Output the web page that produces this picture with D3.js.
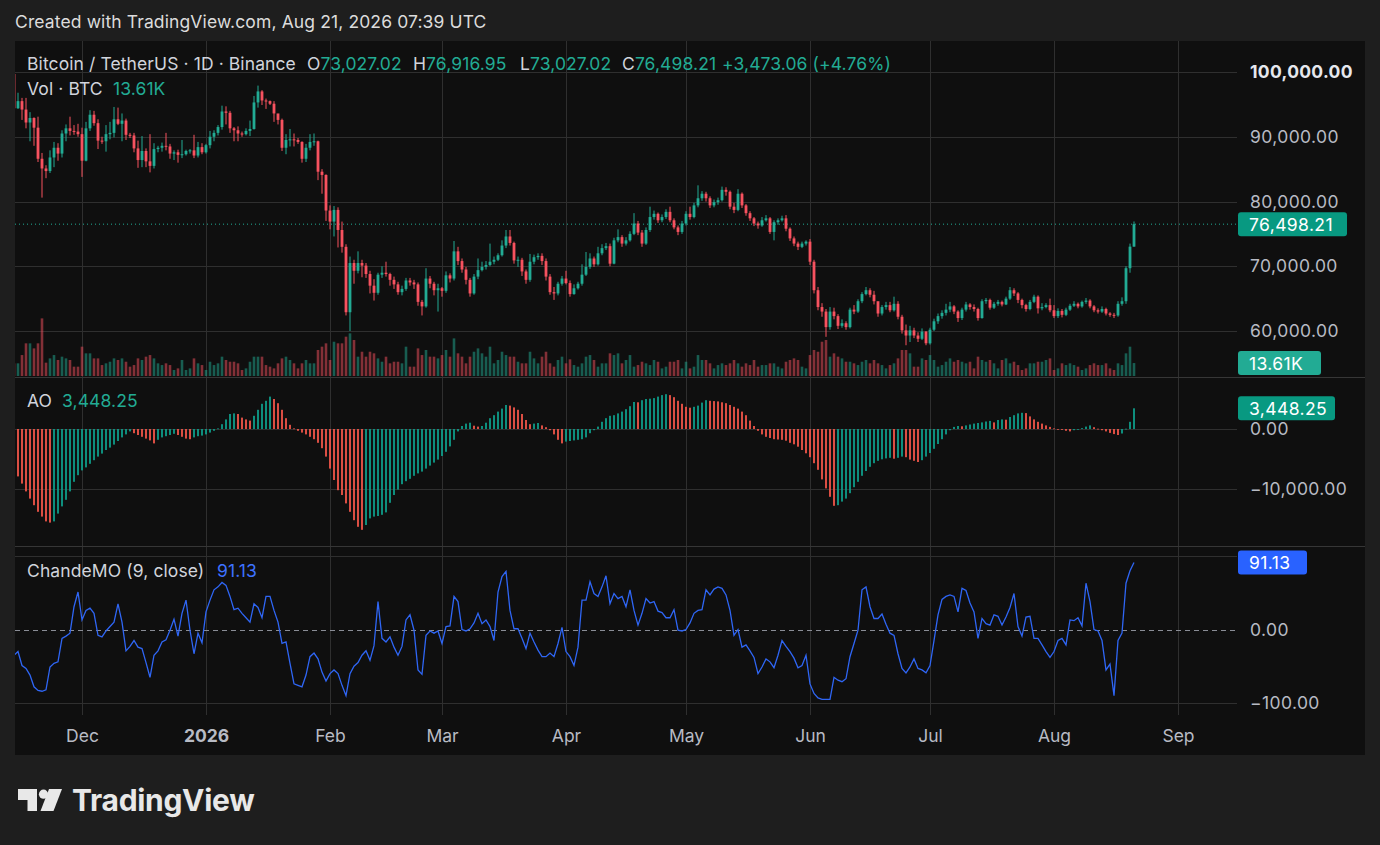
<!DOCTYPE html>
<html><head><meta charset="utf-8">
<script src="https://cdn.jsdelivr.net/npm/d3@7/dist/d3.min.js"></script>
<style>
html,body{margin:0;padding:0;background:#1e1e1e;}
svg{display:block;font-family:Inter,"Noto Sans",sans-serif;}
</style></head><body>
<svg id="c" width="1380" height="845"></svg>
<script>
// ---------------- DATA (BTC/USDT daily, prices in thousands USDT) ----------------
const firstDay = "2025-11-14";
const firstOpenK = 99.7;
const closeK = [
 94.4,95.5,94.2,92.2,92.9,91.4,86.6,85.1,84.7,86.8,
 88.3,87.4,90.5,91.3,90.9,90.8,90.4,86.3,91.3,93.4,
 92.1,89.4,89.3,90.4,90.6,92.7,92.0,92.5,90.3,90.2,
 88.2,86.4,87.8,86.2,85.5,88.1,88.3,88.6,88.5,87.4,
 87.6,87.2,87.3,87.8,87.9,87.1,88.4,87.6,88.7,90.0,
 90.6,91.5,93.9,93.7,91.3,91.0,90.5,90.4,90.9,91.2,
 95.3,97.0,95.6,95.5,95.1,93.6,92.6,88.3,89.5,89.6,
 89.5,89.2,86.6,88.3,89.2,89.3,84.6,84.1,78.6,76.9,
 78.7,75.6,73.0,62.9,70.5,69.3,70.5,70.1,68.8,67.0,
 65.9,68.7,69.0,68.8,67.9,67.2,66.0,66.5,67.8,67.5,
 67.2,64.5,63.8,68.1,67.3,66.3,66.6,66.2,68.6,68.1,
 72.3,70.8,69.5,67.9,65.8,68.4,69.4,69.9,70.2,70.7,
 71.0,71.7,73.2,74.6,73.6,70.9,71.0,69.2,67.9,70.7,
 71.4,71.6,70.8,68.4,66.0,65.8,67.3,68.1,67.4,65.7,
 66.6,67.3,68.7,69.9,71.2,70.3,72.0,72.8,73.1,70.4,
 74.0,74.5,73.5,74.0,75.0,76.6,75.2,73.5,75.6,77.6,
 78.1,77.1,77.6,78.4,77.1,76.0,75.3,76.6,78.1,77.6,
 79.4,80.5,81.2,80.5,79.4,79.9,80.2,81.8,81.5,79.2,
 78.7,81.2,79.4,78.2,77.4,76.6,76.3,77.1,77.4,75.3,
 76.8,77.1,77.4,75.8,74.3,73.5,73.0,73.5,73.8,70.7,
 66.3,63.7,63.0,60.6,63.0,62.3,60.8,61.2,60.6,63.3,
 63.0,64.6,65.7,66.3,65.6,64.6,62.7,63.7,64.0,63.2,
 64.2,62.2,60.1,59.3,60.1,59.3,58.8,59.9,58.1,60.2,
 61.5,62.3,62.8,63.3,63.8,63.0,62.0,63.3,64.1,63.7,
 63.4,62.0,64.6,64.8,63.6,64.2,64.5,64.1,65.0,66.3,
 65.8,64.8,64.0,63.4,64.5,65.3,63.5,63.7,64.0,63.2,
 62.3,63.1,62.5,63.3,63.9,64.2,63.8,64.5,64.7,63.8,
 63.2,63.0,63.4,62.7,62.5,62.4,64.2,64.6,69.7,73.02702,
 76.49821];
const highK = [
 99.6,96.8,96.0,96.0,93.8,93.0,93.1,87.5,85.6,87.9,
 89.2,89.0,91.0,91.9,93.1,91.8,92.0,91.4,92.3,94.1,
 94.0,92.7,90.0,91.8,92.3,94.6,94.5,93.6,92.8,90.6,
 90.6,89.4,90.1,88.2,90.4,89.0,88.6,89.1,90.6,88.9,
 87.9,88.0,89.5,88.0,88.1,90.3,89.2,89.0,88.9,90.9,
 91.0,91.8,94.8,94.7,94.0,91.5,91.6,90.8,91.3,92.5,
 96.3,97.9,97.2,95.9,95.6,95.5,93.4,92.8,90.4,91.2,
 90.5,89.8,89.3,88.9,90.4,90.5,89.4,85.0,84.2,79.4,
 79.3,79.1,76.9,73.4,71.5,71.0,72.3,71.0,70.5,69.3,
 68.0,69.0,70.0,70.7,69.0,68.4,67.6,67.0,68.2,68.2,
 67.9,67.5,64.8,69.7,68.5,67.6,67.3,66.8,69.2,68.9,
 73.9,73.0,71.2,69.9,68.2,68.8,71.2,70.7,70.8,73.5,
 71.5,72.0,74.0,75.6,75.6,73.8,71.5,71.3,69.5,71.9,
 71.8,72.0,72.0,71.2,68.8,66.8,67.6,68.5,69.3,67.8,
 67.2,67.6,70.3,72.2,72.0,71.5,73.0,73.4,73.6,73.5,
 74.4,75.7,74.8,74.5,75.4,78.2,77.0,75.6,76.0,79.2,
 78.6,78.3,78.0,78.8,79.2,77.4,76.3,77.0,78.5,79.2,
 79.8,82.5,81.6,81.5,80.8,80.3,80.6,82.3,82.2,81.7,
 79.8,81.9,81.4,79.6,78.5,77.6,76.9,77.6,77.9,77.6,
 77.1,77.4,77.8,77.9,76.0,74.6,73.8,73.8,74.0,74.2,
 71.0,66.8,64.3,63.4,63.7,63.6,62.6,61.8,61.5,63.6,
 64.0,64.9,66.0,66.8,66.6,66.2,64.5,64.0,64.5,64.5,
 65.3,64.6,62.5,61.0,60.8,60.5,59.8,60.4,60.0,60.5,
 61.9,62.7,63.2,64.2,64.5,64.0,63.2,63.6,64.5,64.3,
 64.1,63.6,64.9,65.1,65.0,64.5,64.8,64.7,65.3,66.8,
 66.6,66.0,65.0,64.2,64.8,65.6,65.5,64.3,64.3,65.0,
 64.0,63.5,63.4,63.6,64.2,64.6,64.4,64.7,65.1,64.9,
 64.0,63.5,63.8,63.6,62.9,62.8,64.6,65.2,70.0,73.5,
 76.91695];
const lowK = [
 94.0,94.3,92.6,91.3,89.3,88.6,86.1,80.6,83.6,84.4,
 85.3,86.3,86.8,89.3,90.2,90.3,90.0,83.8,86.2,90.9,
 91.7,88.1,88.9,87.7,89.6,89.9,91.8,89.3,89.5,89.8,
 87.6,85.2,85.3,85.3,84.5,85.1,87.6,87.7,87.9,86.6,
 86.4,86.0,86.7,87.1,87.4,86.7,86.8,87.3,87.4,88.2,
 89.3,90.2,91.1,91.9,90.6,89.3,89.3,90.0,90.2,90.1,
 91.1,94.5,94.9,94.3,94.9,92.3,91.9,87.8,87.3,88.5,
 88.5,88.9,86.0,86.1,87.9,88.6,83.3,81.2,77.0,75.7,
 74.6,72.9,72.1,62.4,60.0,67.3,68.9,68.3,68.2,65.8,
 64.7,65.6,68.2,68.4,67.0,66.5,65.6,65.5,66.2,67.0,
 66.5,63.9,62.4,63.6,66.6,65.5,63.0,65.3,65.9,67.5,
 67.8,70.2,69.0,67.2,65.3,65.6,68.0,69.2,69.5,70.0,
 70.3,70.8,71.5,72.8,73.2,70.4,69.9,68.5,67.3,67.6,
 70.3,71.0,70.2,67.8,65.6,64.8,65.5,67.0,67.2,65.3,
 65.6,66.4,67.0,68.5,69.6,69.9,70.1,71.7,72.5,70.0,
 70.3,73.7,73.0,73.2,73.8,74.8,74.8,73.0,73.3,75.3,
 77.2,76.7,76.8,77.3,76.8,75.7,74.8,75.0,76.3,77.2,
 77.4,79.1,80.1,80.0,79.0,79.1,79.5,80.0,80.9,78.8,
 78.2,78.5,79.0,77.8,77.0,76.2,75.8,76.1,76.9,75.0,
 74.0,76.4,76.9,75.4,73.9,73.1,72.5,72.8,73.2,70.2,
 65.8,63.2,62.2,59.1,60.2,61.8,60.3,60.5,60.2,60.4,
 62.6,62.8,64.3,65.5,65.2,64.1,62.2,62.4,63.3,62.9,
 63.0,61.8,59.6,57.8,58.3,58.9,58.3,58.6,57.8,57.9,
 60.0,61.1,61.9,62.4,62.9,62.6,61.4,61.7,63.0,63.3,
 63.0,61.6,61.9,64.2,63.3,63.4,63.9,63.8,64.0,64.8,
 65.4,64.3,63.5,63.0,63.2,64.3,62.7,63.2,63.5,62.9,
 62.0,62.0,62.1,62.3,63.1,63.7,63.5,63.6,64.2,63.5,
 62.9,62.7,62.8,62.4,62.2,62.0,62.2,63.9,64.2,69.0,
 73.02702];
// volume, thousands of BTC
const volumeK = [
 13.3,13.3,22.0,34.3,34.3,29.0,34.3,60.5,14.0,18.5,
 22.0,16.8,20.3,18.5,16.8,9.8,9.8,30.8,23.8,23.8,
 18.5,18.5,11.5,13.3,15.0,18.5,16.8,18.5,15.0,9.8,
 11.5,18.5,16.8,20.3,22.0,18.5,13.3,11.5,13.3,11.5,
 6.3,8.0,16.8,6.3,8.0,18.5,13.3,11.5,6.3,15.0,
 11.5,13.3,20.3,16.8,15.0,15.0,13.3,6.3,8.0,15.0,
 20.3,20.3,20.3,11.5,9.8,8.0,13.3,18.5,20.3,16.8,
 13.3,8.0,13.3,16.8,13.3,13.3,27.3,30.8,34.3,16.8,
 36.0,34.3,34.3,41.3,44.8,37.8,20.3,25.5,20.3,25.5,
 23.8,18.5,15.0,20.3,13.3,15.0,15.0,13.3,30.8,9.8,
 9.8,29.0,22.0,27.3,20.3,20.3,18.5,22.0,27.3,20.3,
 39.5,23.8,20.3,13.3,20.3,25.5,29.0,23.8,20.3,30.8,
 13.3,16.8,25.5,22.0,20.3,20.3,15.0,13.3,13.3,25.5,
 18.5,13.3,20.3,25.5,13.3,9.8,16.8,20.3,13.3,17.5,
 11.5,9.8,13.3,20.3,22.0,16.8,9.8,13.3,13.3,23.8,
 22.0,23.8,13.3,16.8,22.0,9.8,11.5,15.0,13.3,11.5,
 16.8,15.0,8.0,9.8,15.0,15.0,16.8,8.0,15.0,8.0,
 9.8,22.0,16.8,16.8,13.3,8.0,11.5,13.3,11.5,13.3,
 16.8,13.3,9.8,13.3,11.5,16.8,9.8,11.5,11.5,13.3,
 13.3,9.8,8.0,15.0,16.8,18.5,16.8,9.8,8.0,22.0,
 27.3,25.5,36.0,37.8,20.3,23.8,20.3,18.5,15.0,15.0,
 13.3,11.5,15.0,16.8,13.3,16.8,13.3,11.5,8.0,11.5,
 13.3,18.5,27.3,27.3,23.8,9.8,9.8,18.5,16.8,22.0,
 16.8,9.8,11.5,15.0,18.5,15.0,16.8,15.0,13.3,15.0,
 8.0,20.3,16.8,15.0,16.8,13.3,8.0,16.8,18.5,13.3,
 15.0,11.5,6.3,8.0,13.3,13.3,15.0,15.0,16.8,18.5,
 6.3,8.0,13.3,11.5,13.3,11.5,9.8,6.3,8.0,11.5,
 13.3,11.5,11.5,13.3,8.0,6.3,13.3,11.5,23.8,30.8,
 13.61];
// Awesome Oscillator, thousands
const aoK = [
 -6.8,-7.9,-9.1,-10.4,-11.6,-12.7,-13.8,-14.6,-15.4,-15.6,
 -15.4,-14.1,-12.9,-11.8,-10.4,-8.8,-7.7,-6.9,-6.4,-5.8,
 -5.2,-4.6,-4.1,-3.5,-3.1,-2.6,-2.0,-1.4,-0.9,-0.4,
 -0.7,-1.0,-1.3,-1.6,-1.9,-2.4,-1.8,-1.4,-1.2,-1.0,
 -0.8,-1.0,-1.3,-1.6,-1.7,-1.4,-1.2,-1.1,-0.9,-0.6,
 -0.3,0.1,0.8,1.6,2.5,2.6,2.5,1.9,1.6,1.4,
 2.2,3.2,4.2,4.7,5.4,5.0,4.3,3.2,1.8,0.7,
 0.1,-0.3,-0.6,-0.9,-1.3,-1.7,-2.3,-3.2,-4.6,-6.6,
 -8.5,-10.2,-11.0,-12.4,-13.8,-15.2,-16.3,-16.8,-16.0,-14.9,
 -14.6,-14.5,-14.3,-13.9,-12.3,-11.0,-10.1,-9.2,-8.7,-8.3,
 -7.8,-7.4,-7.1,-6.6,-6.1,-5.6,-5.1,-4.5,-3.8,-2.9,
 -1.8,-0.4,0.5,0.9,1.05,0.55,0.4,0.5,1.05,1.8,
 2.3,2.9,3.4,4.0,3.9,3.6,3.2,2.5,1.5,0.8,
 0.9,1.0,0.6,0.3,-0.2,-0.9,-1.8,-2.4,-2.1,-2.0,
 -1.9,-1.8,-1.7,-1.4,-0.7,-0.2,0.4,1.2,1.8,2.2,
 2.3,2.6,2.9,3.3,3.8,4.5,4.45,4.8,5.0,5.05,
 5.15,5.4,5.65,5.8,5.65,5.3,4.7,4.2,3.7,3.55,
 3.7,3.9,4.4,4.8,4.7,4.65,4.6,4.45,4.3,4.0,
 3.7,3.4,2.9,2.3,1.4,0.5,-0.3,-0.9,-1.3,-1.5,
 -1.7,-1.75,-1.8,-1.95,-2.3,-2.55,-2.95,-3.5,-4.05,-4.7,
 -5.7,-6.8,-8.4,-9.9,-11.3,-12.8,-12.7,-12.1,-11.6,-10.7,
 -9.7,-8.8,-7.8,-7.0,-6.3,-5.7,-5.3,-5.05,-4.9,-4.8,
 -4.95,-4.8,-4.6,-4.7,-5.1,-5.3,-5.5,-5.2,-4.6,-4.0,
 -3.3,-2.5,-1.7,-0.9,-0.2,0.35,0.5,0.45,0.6,0.75,
 0.9,1.0,1.1,1.25,1.35,1.1,1.5,1.6,1.55,2.0,
 2.3,2.6,2.7,2.65,2.1,1.6,1.2,0.9,0.6,0.35,
 0.1,-0.05,-0.15,-0.3,-0.4,-0.2,-0.05,0.15,0.4,0.6,
 0.3,0.05,-0.2,-0.4,-0.65,-0.85,-1.0,-0.75,0.05,1.2,
 3.44825];
// Chande Momentum Oscillator (9, close)
const cmoValues = [
 -35,-30,-49,-53,-62,-78,-83,-84,-82,-51,
 -46,-44,-12,-9,-5,31,51,13,26,29,
 22,-8,-10,-2,4,10,35,10,-29,-23,
 -15,-24,-26,-45,-65,-35,-29,-17,-14,-1,
 14,-9,22,40,-1,-33,-5,-18,24,40,
 54,58,64,60,45,27,29,22,16,10,
 35,30,16,45,45,26,10,-19,-17,-46,
 -74,-76,-78,-62,-37,-32,-40,-58,-70,-60,
 -55,-60,-76,-90,-60,-50,-45,-35,-29,-42,
 -22,38,-12,-17,-10,-24,-35,-23,13,20,
 -1,-55,-61,-8,-2,-5,-2,-19,4,5,
 45,38,0,-2,1,9,22,8,13,4,
 -15,51,72,79,26,1,1,-12,-26,-5,
 -17,-28,-37,-37,-32,-37,-19,3,-30,-37,
 -49,-24,40,40,65,49,45,58,73,35,
 49,42,45,31,54,26,6,22,42,36,
 38,25,23,16,16,27,-1,-2,0,9,
 22,26,27,54,47,55,58,56,47,26,
 -8,0,-24,-21,-29,-38,-60,-51,-40,-44,
 -52,-35,-15,-23,-30,-39,-52,-49,-35,-74,
 -87,-93,-95,-95,-95,-65,-69,-71,-67,-37,
 -19,-1,54,58,31,15,15,21,7,-5,
 -8,-33,-53,-59,-51,-40,-53,-55,-59,-49,
 -15,20,41,45,47,45,24,56,53,36,
 24,-12,15,8,6,20,18,6,17,30,
 49,4,-9,17,18,-12,-12,-21,-30,-38,
 -30,-15,-12,-21,13,12,16,5,63,38,
 0,-2,-15,-55,-47,-90,-15,-5,63,80,
 91.13];
const priceTicksK = [60,70,80,90,100];
const aoTicksK = [0,-10];
const cmoTicks = [-100,0];
const cmoGrid = [100,-100];
const monthTicks = ["2025-12-01","2026-01-01","2026-02-01","2026-03-01","2026-04-01","2026-05-01","2026-06-01","2026-07-01","2026-08-01","2026-09-01"];
const monthLabels = ["Dec","2026","Feb","Mar","Apr","May","Jun","Jul","Aug","Sep"];
const legend = {symbol:"Bitcoin / TetherUS · 1D · Binance", o:"73,027.02", h:"76,916.95", l:"73,027.02", c:"76,498.21", chg:"+3,473.06 (+4.76%)", vol:"13.61K", ao:"3,448.25", cmo:"91.13"};

// ---------------- LAYOUT ----------------
const W=1380,H=845, BX0=15, BX1=1365, BY0=41, BY1=755, PR=1237;
const MAIN=[41,377], AOP=[377,546], CMOP=[546,715];
const UP="#22ab94", DN="#f7525f", AOUP="#0f9d8a", AODN="#f2564a";
const GRID="#2f2f2f", TXT="#d1d4dc", AX="#b8bbc4";
const FS=17.5;

const svg=d3.select("#c");
svg.append("rect").attr("width",W).attr("height",H).attr("fill","#1e1e1e");
svg.append("rect").attr("x",BX0).attr("y",BY0).attr("width",BX1-BX0).attr("height",BY1-BY0).attr("fill","#0f0f0f");
svg.append("text").attr("x",15).attr("y",28).attr("fill","#dcdcdc").attr("font-size",FS).attr("letter-spacing",0.12)
  .text("Created with TradingView.com, Aug 21, 2026 07:39 UTC");

const parse=d3.utcParse("%Y-%m-%d");
const start=parse(firstDay);
const data=closeK.map((c,i)=>({date:d3.utcDay.offset(start,i),o:i?closeK[i-1]:firstOpenK,h:highK[i],l:lowK[i],c,v:volumeK[i],ao:aoK[i],cmo:cmoValues[i],aoUp:i?aoK[i]>aoK[i-1]:false}));

const x=d3.scaleUtc().domain([parse("2025-12-01"),parse("2026-09-01")]).range([82,1178]);
const yP=d3.scaleLinear().domain([60,100]).range([331,72]);
const yV=d3.scaleLinear().domain([0,63]).range([376,316]);
const yA=d3.scaleLinear().domain([-10,0]).range([489,429]);
const yC=d3.scaleLinear().domain([-100,100]).range([703,556]);

const defs=svg.append("defs");
[["cm",MAIN],["ca",AOP],["cc",CMOP]].forEach(([id,p])=>{
  defs.append("clipPath").attr("id",id).append("rect").attr("x",BX0).attr("y",p[0]).attr("width",PR-BX0).attr("height",p[1]-p[0]);
});

// grid
const mt=monthTicks.map(parse);
const g=svg.append("g");
[MAIN,AOP,CMOP].forEach(p=>{
  g.selectAll(null).data(mt).join("line").attr("x1",d=>Math.round(x(d))+0.5).attr("x2",d=>Math.round(x(d))+0.5)
   .attr("y1",p[0]).attr("y2",p[1]).attr("stroke",GRID);
});
g.selectAll(null).data(priceTicksK).join("line").attr("x1",BX0).attr("x2",PR).attr("y1",d=>Math.round(yP(d))+0.5).attr("y2",d=>Math.round(yP(d))+0.5).attr("stroke",GRID);
g.selectAll(null).data(aoTicksK).join("line").attr("x1",BX0).attr("x2",PR).attr("y1",d=>Math.round(yA(d))+0.5).attr("y2",d=>Math.round(yA(d))+0.5).attr("stroke",GRID);
g.selectAll(null).data(cmoGrid).join("line").attr("x1",BX0).attr("x2",PR).attr("y1",d=>Math.round(yC(d))+0.5).attr("y2",d=>Math.round(yC(d))+0.5).attr("stroke",GRID);
g.append("line").attr("x1",BX0).attr("x2",PR).attr("y1",Math.round(yC(0))+0.5).attr("y2",Math.round(yC(0))+0.5).attr("stroke","#8a8d96").attr("stroke-dasharray","5,4");
[MAIN[1],AOP[1]].forEach(yy=>g.append("line").attr("x1",BX0).attr("x2",BX1).attr("y1",yy+0.5).attr("y2",yy+0.5).attr("stroke","#363636"));

// volume
const gm=svg.append("g").attr("clip-path","url(#cm)");
gm.selectAll(".v").data(data).join("rect").attr("x",d=>x(d.date)-1.3).attr("width",2.6)
  .attr("y",d=>yV(d.v)).attr("height",d=>yV(0)-yV(d.v)).attr("fill",d=>d.c>=d.o?UP:DN).attr("opacity",0.5);
// last price dotted line
gm.append("line").attr("x1",BX0).attr("x2",PR).attr("y1",yP(data[data.length-1].c)).attr("y2",yP(data[data.length-1].c))
  .attr("stroke",UP).attr("stroke-dasharray","1,3");
// candles
gm.selectAll(".w").data(data).join("line").attr("x1",d=>x(d.date)).attr("x2",d=>x(d.date))
  .attr("y1",d=>yP(d.h)).attr("y2",d=>yP(d.l)).attr("stroke",d=>d.c>=d.o?UP:DN).attr("stroke-width",1);
gm.selectAll(".b").data(data).join("rect").attr("x",d=>x(d.date)-1.4).attr("width",2.8)
  .attr("y",d=>yP(Math.max(d.o,d.c))).attr("height",d=>Math.max(1,Math.abs(yP(d.o)-yP(d.c)))).attr("fill",d=>d.c>=d.o?UP:DN);

// AO
const ga=svg.append("g").attr("clip-path","url(#ca)");
ga.selectAll("rect").data(data).join("rect").attr("x",d=>x(d.date)-0.9).attr("width",1.8)
  .attr("y",d=>yA(Math.max(0,d.ao))).attr("height",d=>Math.max(0.8,Math.abs(yA(d.ao)-yA(0)))).attr("fill",d=>d.aoUp?AOUP:AODN);

// CMO
const gc=svg.append("g").attr("clip-path","url(#cc)");
gc.append("path").datum(data).attr("d",d3.line().x(d=>x(d.date)).y(d=>yC(d.cmo))).attr("fill","none").attr("stroke","#2f66f5").attr("stroke-width",1.3);

// right axes
function rAxis(scale,ticks,fmt){
  const a=svg.append("g").attr("transform",`translate(${PR},0)`).call(d3.axisRight(scale).tickValues(ticks).tickFormat(fmt).tickSize(0).tickPadding(13));
  a.select(".domain").remove();
  a.selectAll("text").attr("fill",AX).attr("font-size",FS).attr("letter-spacing",0.4).attr("font-family","Inter,'Noto Sans',sans-serif");
  return a;
}
const f2=d3.format(",.2f");
const pa=rAxis(yP,priceTicksK,d=>f2(d*1000));
pa.selectAll("text").filter(d=>d===100).attr("font-weight",700).attr("fill","#e6e8ee").attr("letter-spacing",0.3);
rAxis(yA,aoTicksK,d=>f2(d*1000));
rAxis(yC,cmoTicks,d=>f2(d));

// value badges
function badge(yc,w,col,txt){
  svg.append("rect").attr("x",PR+1).attr("y",yc-12).attr("width",w).attr("height",24).attr("rx",3).attr("fill",col);
  svg.append("text").attr("x",PR+12).attr("y",yc+6.5).attr("fill","#ffffff").attr("font-size",FS).attr("letter-spacing",0.4).text(txt);
}
const last=data[data.length-1];
badge(yP(last.c),109,"#089981",legend.c);
badge(yV(last.v),83,"#22ab94",legend.vol);
badge(yA(last.ao),97,"#089981",legend.ao);
badge(yC(last.cmo),69,"#2962ff",legend.cmo);

// time axis
const ta=svg.append("g").attr("transform","translate(0,726)").call(d3.axisBottom(x).tickValues(mt).tickFormat((d,i)=>monthLabels[i]).tickSize(0).tickPadding(4));
ta.select(".domain").remove();
ta.selectAll("text").attr("fill",AX).attr("font-size",FS).attr("font-family","Inter,'Noto Sans',sans-serif")
  .attr("font-weight",(d,i)=>i===1?700:400);

// legends
const lg=svg.append("g").attr("font-size",FS).attr("letter-spacing",0.1);
lg.append("text").attr("x",27).attr("y",70).attr("fill",TXT).text(legend.symbol);
[["O",legend.o,307],["H",legend.h,413],["L",legend.l,520],["C",legend.c,622]].forEach(([k,v,xx])=>{
  const t=lg.append("text").attr("x",xx).attr("y",70);
  t.append("tspan").attr("fill",TXT).text(k);
  t.append("tspan").attr("fill",UP).text(v);
});
lg.append("text").attr("x",722).attr("y",70).attr("fill",UP).text(legend.chg);
const vt=lg.append("text").attr("x",27).attr("y",95);
vt.append("tspan").attr("fill",TXT).text("Vol · BTC");
vt.append("tspan").attr("x",113).attr("fill",UP).text(legend.vol);
const at=lg.append("text").attr("x",27).attr("y",407);
at.append("tspan").attr("fill",TXT).text("AO");
at.append("tspan").attr("x",62).attr("fill",UP).text(legend.ao);
const ct=lg.append("text").attr("x",27).attr("y",577);
ct.append("tspan").attr("fill",TXT).text("ChandeMO (9, close)");
ct.append("tspan").attr("x",217).attr("fill","#3d72ff").text(legend.cmo);

// TradingView logo
const lo=svg.append("g").attr("fill","#e8e8e8");
lo.append("path").attr("d","M18,789 H37 V811 H27.5 V800 H18 Z");
lo.append("circle").attr("cx",43.5).attr("cy",794.2).attr("r",4.6);
lo.append("path").attr("d","M49,789 H62 L53.5,811 H40.5 Z");
lo.append("text").attr("x",72).attr("y",811).attr("font-size",30).attr("font-weight",700).attr("letter-spacing",-0.3).text("TradingView");
</script>
</body></html>
